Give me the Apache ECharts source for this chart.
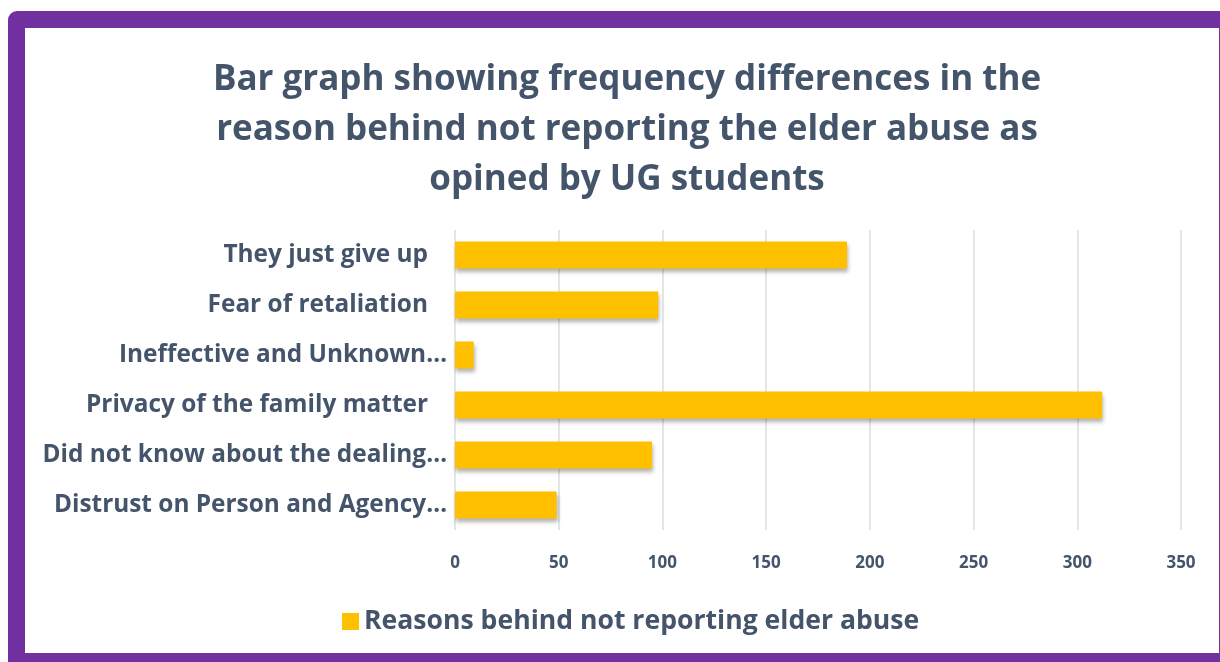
<!DOCTYPE html>
<html>
<head>
<meta charset="utf-8">
<script src="https://cdn.jsdelivr.net/npm/echarts@6/dist/echarts.min.js"></script>
<style>
  html, body { margin: 0; padding: 0; background: #ffffff; overflow: hidden; }
  #frame {
    position: absolute; left: 8px; top: 11px;
    width: 1194px; height: 625px;
    border: 17px solid #7030A0; border-radius: 9px;
    background: #ffffff;
  }
  #chart { position: absolute; left: 0; top: 0; width: 1220px; height: 662px; }
</style>
</head>
<body>
<div id="frame"></div>
<div id="chart"></div>
<script>
// Reasons behind not reporting elder abuse (UG students), top to bottom
const categories = [
  'They just give up   ',
  'Fear of retaliation   ',
  'Ineffective and Unknown…',
  'Privacy of the family matter   ',
  'Did not know about the dealing…',
  'Distrust on Person and Agency…'
];
const frequencies = [189, 98, 9, 312, 95, 49];
const seriesName = 'Reasons behind not reporting elder abuse';
const xTicks = { min: 0, max: 350, interval: 50 };

const textColor = '#44546A';
const font = '"Open Sans", Lato, sans-serif';

const chart = echarts.init(document.getElementById('chart'), null, { renderer: 'canvas' });
chart.setOption({
  backgroundColor: 'transparent',
  animation: false,
  title: {
    text: 'Bar graph showing frequency differences in the\nreason behind not reporting the elder abuse as\nopined by UG students',
    left: 622, top: 50, textAlign: 'center',
    textStyle: { color: textColor, fontFamily: font, fontWeight: 'bold', fontSize: 35, lineHeight: 50 }
  },
  legend: {
    data: [seriesName],
    left: 337, top: 603,
    itemWidth: 17, itemHeight: 17, itemGap: 8,
    icon: 'rect',
    textStyle: { color: textColor, fontFamily: font, fontWeight: 'bold', fontSize: 26.6 }
  },
  grid: { left: 455, right: 39, top: 230, bottom: 132, containLabel: false },
  xAxis: {
    type: 'value',
    min: xTicks.min, max: xTicks.max, interval: xTicks.interval,
    axisLine: { show: false },
    axisTick: { show: false },
    axisLabel: { color: textColor, fontFamily: font, fontWeight: 'bold', fontSize: 17, margin: 25 },
    splitLine: { show: true, lineStyle: { color: '#D9DCE2', width: 1.5 } }
  },
  yAxis: {
    type: 'category',
    data: categories,
    inverse: true,
    axisLine: { show: false },
    axisTick: { show: false },
    axisLabel: { color: textColor, fontFamily: font, fontWeight: 'bold', fontSize: 24.4, margin: 8 }
  },
  series: [{
    name: seriesName,
    type: 'bar',
    data: frequencies,
    barWidth: 27,
    itemStyle: {
      color: '#FFC000',
      shadowColor: 'rgba(0,0,0,0.3)', shadowBlur: 4, shadowOffsetX: 1, shadowOffsetY: 3
    }
  }]
});
</script>
</body>
</html>
